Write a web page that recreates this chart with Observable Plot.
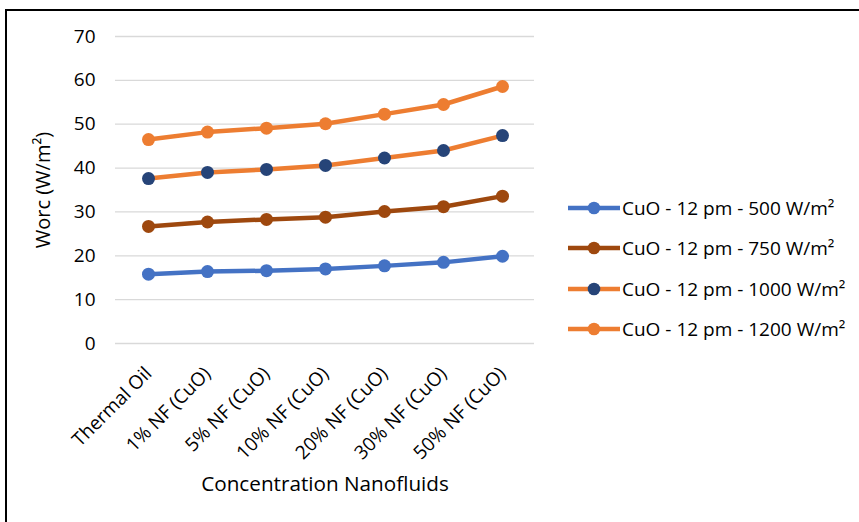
<!DOCTYPE html>
<html><head><meta charset="utf-8">
<script src="https://cdn.jsdelivr.net/npm/d3@7"></script>
<script src="https://cdn.jsdelivr.net/npm/@observablehq/plot@0.6"></script>
<style>
body{margin:0;background:#fff;}
#wrap{position:relative;width:859px;height:522px;overflow:hidden;font-family:"Open Sans",sans-serif;background:#fff;}
#frame{position:absolute;left:5px;top:9px;right:-4px;bottom:-4px;border-left:2px solid #000;border-top:2px solid #000;pointer-events:none;}
#chart{position:absolute;left:0;top:0;}
#chart g[aria-label="x-axis label"] text{font-size:20.7px;}
#chart g[aria-label="y-axis label"] text{font-size:20px;}
#legend{position:absolute;left:568px;top:188px;}
.item{display:flex;align-items:center;height:40.3px;font-size:19px;color:#000;white-space:nowrap;}
.item svg{margin-right:2px;}
</style></head>
<body><div id="wrap"><div id="chart"></div><div id="frame"></div><div id="legend"></div></div>
<script>
const categories = ["Thermal Oil","1% NF (CuO)","5% NF (CuO)","10% NF (CuO)","20% NF (CuO)","30% NF (CuO)","50% NF (CuO)"];
const seriesNames = ["CuO - 12 pm - 500 W/m²","CuO - 12 pm - 750 W/m²","CuO - 12 pm - 1000 W/m²","CuO - 12 pm - 1200 W/m²"];
const w500  = [15.8,16.4,16.6,17.0,17.7,18.5,19.9];
const w750  = [26.7,27.7,28.3,28.8,30.1,31.2,33.6];
const w1000 = [37.6,39.0,39.7,40.6,42.3,44.0,47.4];
const w1200 = [46.5,48.2,49.1,50.1,52.3,54.5,58.6];
const lineColors   = ["#4472C4","#9E480E","#ED7D31","#ED7D31"];
const markerColors = ["#4472C4","#9E480E","#264478","#ED7D31"];
const yTicks = [0,10,20,30,40,50,60,70];
const yLabel = "Worc (W/m²)";
const xLabel = "Concentration Nanofluids";

const seriesValues = [w500,w750,w1000,w1200];
const rows = [];
seriesValues.forEach((vals,s)=>vals.forEach((v,i)=>rows.push({series:seriesNames[s],cat:categories[i],value:v,si:s})));

const marks = [
  Plot.gridY(yTicks,{stroke:"#D9D9D9",strokeOpacity:1,strokeWidth:1.3}),
  Plot.axisY(yTicks,{tickSize:0,tickPadding:20,fontSize:19,label:yLabel,labelAnchor:"center",labelArrow:"none",labelOffset:80}),
  Plot.axisX({tickSize:0,tickRotate:-45,tickPadding:27,fontSize:19,label:xLabel,labelAnchor:"center",labelArrow:"none",labelOffset:147})
];
seriesNames.forEach((name,s)=>{
  const d = rows.filter(r=>r.si===s);
  marks.push(Plot.line(d,{x:"cat",y:"value",stroke:lineColors[s],strokeWidth:4.5}));
  marks.push(Plot.dot(d,{x:"cat",y:"value",fill:markerColors[s],r:6.5,stroke:"none"}));
});

const chart = Plot.plot({
  width:859,height:522,
  marginLeft:115,marginRight:325,marginTop:36,marginBottom:179,
  style:{fontFamily:"'Open Sans',sans-serif",fontSize:"19px",color:"#000",background:"transparent"},
  x:{type:"point",domain:categories,padding:0.5},
  y:{domain:[0,70]},
  marks
});
document.getElementById("chart").appendChild(chart);

const legend = document.getElementById("legend");
seriesNames.forEach((name,s)=>{
  const item = document.createElement("div");
  item.className="item";
  item.innerHTML = `<svg width="52" height="14"><line x1="0" y1="7" x2="52" y2="7" stroke="${lineColors[s]}" stroke-width="4.5"/><circle cx="26" cy="7" r="6.3" fill="${markerColors[s]}"/></svg><span></span>`;
  item.querySelector("span").textContent = name;
  legend.appendChild(item);
});
</script>
</body></html>
